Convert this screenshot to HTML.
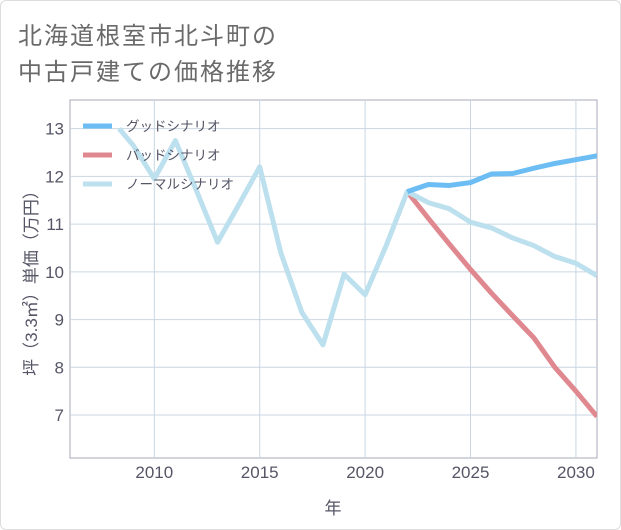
<!DOCTYPE html>
<html><head><meta charset="utf-8"><style>
body{margin:0;background:#fff;}
#card{position:absolute;left:0;top:0;width:619px;height:528px;border:1px solid #ddd;border-radius:6px;background:#fff;}
.t{position:absolute;left:18px;font:24px "Liberation Sans","Noto Sans CJK JP",sans-serif;color:#6a6a6a;letter-spacing:2px;}
svg{position:absolute;left:0;top:0;}
text{font-family:"Liberation Sans","Noto Sans CJK JP",sans-serif;}
</style></head><body>
<div id="card"></div>
<div class="t" style="top:16px">北海道根室市北斗町の</div>
<div class="t" style="top:52px">中古戸建ての価格推移</div>
<svg id="c" width="621" height="530"></svg>
<script>
const xTicks=[2010,2015,2020,2025,2030];
const yTicks=[7,8,9,10,11,12,13];
const normalYears=[2008.33,2009,2010,2011,2012,2013,2014,2015,2016,2017,2018,2019,2020,2021,2022,2023,2024,2025,2026,2027,2028,2029,2030,2031];
const normalVals=[13.0,12.65,11.95,12.75,11.7,10.62,11.4,12.2,10.4,9.15,8.47,9.95,9.52,10.55,11.68,11.45,11.32,11.04,10.92,10.71,10.55,10.32,10.18,9.92];
const futureYears=[2022,2023,2024,2025,2026,2027,2028,2029,2030,2031];
const goodVals=[11.68,11.83,11.81,11.87,12.05,12.06,12.17,12.27,12.35,12.43];
const badVals=[11.68,11.12,10.58,10.05,9.55,9.08,8.62,8.0,7.5,6.97];
const X0=70,X1=597,Y0=100,Y1=458,xmin=2006,xmax=2031,ymin=6.1,ymax=13.6;
const sx=v=>X0+(v-xmin)/(xmax-xmin)*(X1-X0);
const sy=v=>Y1-(v-ymin)/(ymax-ymin)*(Y1-Y0);
const svg=document.getElementById('c');const NS='http://www.w3.org/2000/svg';
function mk(t,a,p){const e=document.createElementNS(NS,t);for(const k in a)e.setAttribute(k,a[k]);(p||svg).appendChild(e);return e;}
let r=mk('rect',{x:X0,y:Y0,width:X1-X0,height:Y1-Y0,fill:'none',stroke:'#aab',"stroke-width":1});


xTicks.forEach(v=>{const l=mk('line',{x1:sx(v),x2:sx(v),y1:Y0,y2:Y1,stroke:'#c9d6e2'});


const t=mk('text',{x:sx(v),y:478,"text-anchor":"middle","font-size":17,fill:'#556'});t.textContent=v;

});
yTicks.forEach(v=>{const l=mk('line',{x1:X0,x2:X1,y1:sy(v),y2:sy(v),stroke:'#c9d6e2'});


const t=mk('text',{x:64,y:sy(v)+6,"text-anchor":"end","font-size":17,fill:'#556'});t.textContent=v;

});
function series(xs,ys,col,name){const d=xs.map((x,i)=>(i?'L':'M')+sx(x)+','+sy(ys[i])).join('');
const p=mk('path',{d:d,fill:'none',stroke:col,"stroke-width":5,"stroke-linejoin":"round"});

}
const cp=mk('clipPath',{id:'cl'});mk('rect',{x:X0,y:Y0,width:X1-X0,height:Y1-Y0},cp);
const g=mk('g',{"clip-path":"url(#cl)"});
series(futureYears,badVals,'#e08890','bad-scenario-line');
series(normalYears,normalVals,'#bde0ee','normal-scenario-line');
series(futureYears,goodVals,'#6bbdf3','good-scenario-line');
[...svg.querySelectorAll('path')].forEach(p=>g.appendChild(p));
const leg=[['グッドシナリオ','#6bbdf3',126],['バッドシナリオ','#e08890',155],['ノーマルシナリオ','#bde0ee',184]];
leg.forEach(([n,c,y])=>{const l=mk('line',{x1:83,x2:112,y1:y,y2:y,stroke:c,"stroke-width":5});


const t=mk('text',{x:126,y:y+5,"font-size":13.5,fill:'#556'});t.textContent=n;

});
const xt=mk('text',{x:333,y:514,"text-anchor":"middle","font-size":17,fill:'#556'});xt.textContent='年';


const yt=mk('text',{x:0,y:0,"text-anchor":"middle","font-size":17,fill:'#556',transform:'translate(37,279) rotate(-90)'});yt.textContent='坪（3.3㎡）単価（万円）';


</script>
</body></html>
